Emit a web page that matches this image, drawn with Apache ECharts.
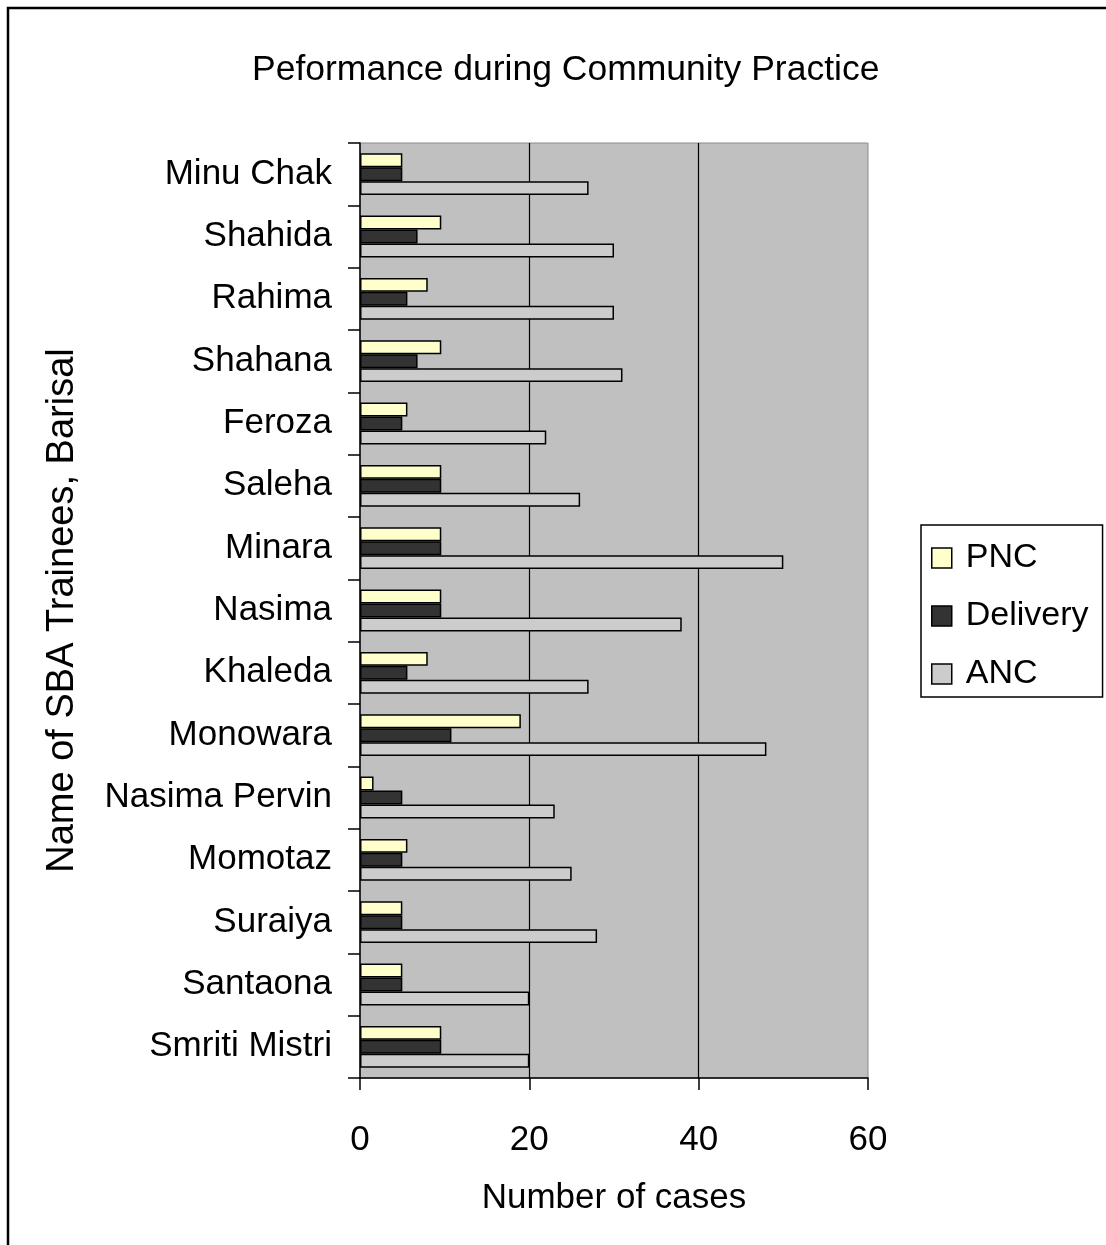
<!DOCTYPE html>
<html>
<head>
<meta charset="utf-8">
<title>Peformance during Community Practice</title>
<script src="https://cdn.jsdelivr.net/npm/echarts@6/dist/echarts.min.js"></script>
<style>
  html, body { margin: 0; padding: 0; background: #fff; }
  #report_box { width: 1106px; height: 1245px; }
</style>
</head>
<body>
<div id="report_box"></div>
<script>
// trainee names, top to bottom
var traineeName = ['Minu Chak', 'Shahida', 'Rahima', 'Shahana', 'Feroza', 'Saleha', 'Minara', 'Nasima',
    'Khaleda', 'Monowara', 'Nasima Pervin', 'Momotaz', 'Suraiya', 'Santaona', 'Smriti Mistri'];
var pncData = [5, 9.6, 8, 9.6, 5.6, 9.6, 9.6, 9.6, 8, 19, 1.6, 5.6, 5, 5, 9.6];
var deliveryData = [5, 6.8, 5.6, 6.8, 5, 9.6, 9.6, 9.6, 5.6, 10.8, 5, 5, 5, 5, 9.6];
var ancData = [27, 30, 30, 31, 22, 26, 50, 38, 27, 48, 23, 25, 28, 20, 20];
var xTicks = [0, 20, 40, 60];

var FONT = 'Liberation Sans, Arial, sans-serif';

function init() {
    var myChart = echarts.init(document.getElementById('report_box'));
    var barStyle = function (color) {
        return {color: color, borderColor: '#000', borderWidth: 1.5};
    };
    var option = {
        backgroundColor: '#fff',
        animation: false,
        title: {
            text: 'Peformance during Community Practice',
            left: 247,
            top: 47,
            textStyle: {fontFamily: FONT, fontSize: 35.5, fontWeight: 'normal', color: '#000'}
        },
        legend: {
            orient: 'vertical',
            left: 921,
            top: 525,
            padding: [16, 14, 6, 10],
            itemWidth: 20,
            itemHeight: 20,
            itemGap: 24,
            icon: 'rect',
            borderColor: '#000',
            borderWidth: 1.5,
            data: ['PNC', 'Delivery', 'ANC'],
            itemStyle: {borderColor: '#000', borderWidth: 1.5},
            textStyle: {fontFamily: FONT, fontSize: 34, color: '#000', padding: [0, 0, 0, 9]}
        },
        graphic: [{
            type: 'rect',
            shape: {x: 8, y: 8, width: 1300, height: 1400},
            style: {fill: 'none', stroke: '#000', lineWidth: 2.5},
            silent: true
        }],
        grid: {
            left: 360,
            right: 238,
            top: 143,
            bottom: 167,
            show: true,
            backgroundColor: '#c0c0c0',
            borderColor: '#8a8a8a',
            borderWidth: 1
        },
        xAxis: {
            type: 'value',
            min: xTicks[0],
            max: xTicks[xTicks.length - 1],
            interval: 20,
            name: 'Number of cases',
            nameLocation: 'middle',
            nameGap: 103,
            nameTextStyle: {fontFamily: FONT, fontSize: 35, color: '#000'},
            axisLine: {show: true, lineStyle: {color: '#000', width: 1.5}},
            axisTick: {show: true, length: 12, lineStyle: {color: '#000', width: 1.5}},
            axisLabel: {fontFamily: FONT, fontSize: 35, color: '#000', margin: 45},
            splitLine: {show: true, showMinLine: false, showMaxLine: false, lineStyle: {color: '#000', width: 1.2}}
        },
        yAxis: {
            type: 'category',
            inverse: true,
            data: traineeName,
            name: 'Name of SBA Trainees, Barisal',
            nameLocation: 'middle',
            nameGap: 278,
            nameTextStyle: {fontFamily: FONT, fontSize: 38, color: '#000'},
            axisLine: {show: true, lineStyle: {color: '#000', width: 1.5}},
            axisTick: {show: true, length: 12, lineStyle: {color: '#000', width: 1.5}},
            axisLabel: {fontFamily: FONT, fontSize: 35, color: '#000', margin: 28}
        },
        series: [
            {name: 'PNC', type: 'bar', data: pncData, barGap: '0%', barCategoryGap: '33%', itemStyle: barStyle('#ffffcc')},
            {name: 'Delivery', type: 'bar', data: deliveryData, barGap: '0%', barCategoryGap: '33%', itemStyle: barStyle('#333333')},
            {name: 'ANC', type: 'bar', data: ancData, barGap: '0%', barCategoryGap: '33%', itemStyle: barStyle('#cccccc')}
        ]
    };
    myChart.setOption(option);
}

init();
</script>
</body>
</html>
